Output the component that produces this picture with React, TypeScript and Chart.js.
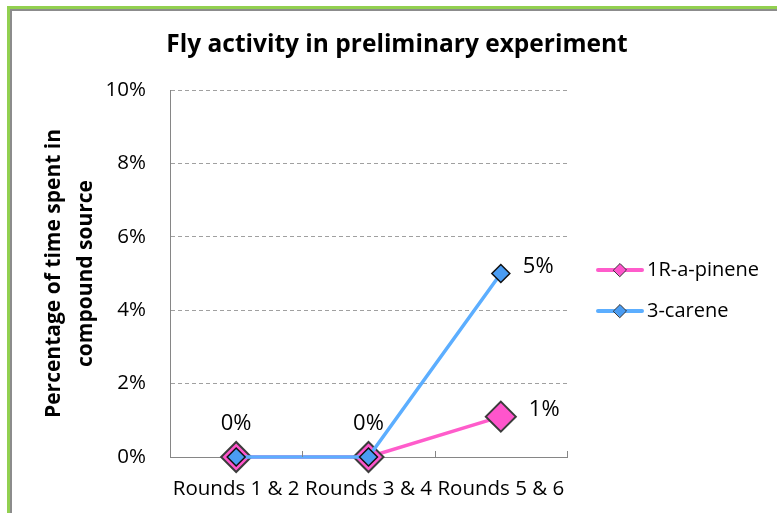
import React, { useEffect, useRef } from 'react';
import { Chart, registerables } from 'chart.js';

Chart.register(...registerables);

const titleText = 'Fly activity in preliminary experiment';
const yTitleLines = ['Percentage of time spent in', 'compound source'];
const categories = ['Rounds 1 & 2', 'Rounds 3 & 4', 'Rounds 5 & 6'];
const seriesNames = ['1R-a-pinene', '3-carene'];
const pineneValues = [0, 0, 1.1];
const careneValues = [0, 0, 5];
const pineneLabels = ['0%', '0%', '1%'];
const careneLabels = ['', '', '5%'];
const yTickValues = [0, 2, 4, 6, 8, 10];

const FONT = '"Open Sans", sans-serif';
const PINK_LINE = '#FF5CCB';
const PINK_FILL = '#FF55CC';
const BLUE_LINE = '#5CAEFF';
const BLUE_FILL = '#4A9CF2';

const labelPlacements = [
  ['above', 'above', 'right'],
  ['none', 'none', 'right'],
];
const labelTexts = [pineneLabels, careneLabels];

const yTitlePlugin = {
  id: 'yTitleCustom',
  afterDraw(chart: any) {
    const { ctx, chartArea } = chart;
    const cy = (chartArea.top + chartArea.bottom) / 2;
    ctx.save();
    ctx.font = `bold 21px ${FONT}`;
    ctx.fillStyle = '#000';
    ctx.textAlign = 'center';
    ctx.textBaseline = 'middle';
    ctx.translate(54, cy);
    ctx.rotate(-Math.PI / 2);
    ctx.fillText(yTitleLines[0], 0, 0);
    ctx.fillText(yTitleLines[1], 0, 32);
    ctx.restore();
  },
};

const xTickPlugin = {
  id: 'xInsideTicks',
  afterDraw(chart: any) {
    const { ctx, chartArea } = chart;
    const xs = chart.scales.x;
    const half = (xs.getPixelForValue(1) - xs.getPixelForValue(0)) / 2;
    ctx.save();
    ctx.strokeStyle = '#868686';
    ctx.lineWidth = 1;
    for (let i = 0; i <= categories.length; i++) {
      const px = Math.round(xs.getPixelForValue(0) - half + i * 2 * half) + 0.5;
      ctx.beginPath();
      ctx.moveTo(px, chartArea.bottom);
      ctx.lineTo(px, chartArea.bottom - 6);
      ctx.stroke();
    }
    ctx.restore();
  },
};

const dataLabelPlugin = {
  id: 'dataLabels',
  afterDatasetsDraw(chart: any) {
    const { ctx } = chart;
    ctx.save();
    ctx.font = `22px ${FONT}`;
    ctx.fillStyle = '#000';
    chart.data.datasets.forEach((ds: any, di: number) => {
      const meta = chart.getDatasetMeta(di);
      const r = ds.pointRadius;
      meta.data.forEach((pt: any, i: number) => {
        const place = labelPlacements[di][i];
        const txt = labelTexts[di][i];
        if (place === 'none' || !txt) return;
        if (place === 'above') {
          ctx.textAlign = 'center';
          ctx.textBaseline = 'middle';
          ctx.fillText(txt, pt.x, pt.y - r - 18);
        } else {
          ctx.textAlign = 'left';
          ctx.textBaseline = 'middle';
          ctx.fillText(txt, pt.x + r + 13, pt.y - 7);
        }
      });
    });
    ctx.restore();
  },
};

const legendPlugin = {
  id: 'legendCustom',
  afterDraw(chart: any) {
    const { ctx, chartArea } = chart;
    const x0 = chartArea.right + 31;
    const ys = [chartArea.top + 180, chartArea.top + 221];
    ctx.save();
    chart.data.datasets.forEach((ds: any, i: number) => {
      const y = ys[i];
      ctx.strokeStyle = ds.borderColor;
      ctx.lineWidth = 4;
      ctx.lineCap = 'round';
      ctx.beginPath();
      ctx.moveTo(x0, y);
      ctx.lineTo(x0 + 44, y);
      ctx.stroke();
      const cx = x0 + 22;
      const rr = 6.5;
      ctx.beginPath();
      ctx.moveTo(cx - rr, y);
      ctx.lineTo(cx, y - rr);
      ctx.lineTo(cx + rr, y);
      ctx.lineTo(cx, y + rr);
      ctx.closePath();
      ctx.fillStyle = ds.pointBackgroundColor;
      ctx.fill();
      ctx.lineWidth = 1;
      ctx.strokeStyle = '#333';
      ctx.stroke();
      ctx.font = `20px ${FONT}`;
      ctx.fillStyle = '#000';
      ctx.textAlign = 'left';
      ctx.textBaseline = 'middle';
      ctx.fillText(ds.label, x0 + 49, y);
    });
    ctx.restore();
  },
};

export default function App() {
  const canvasRef = useRef<HTMLCanvasElement | null>(null);

  useEffect(() => {
    if (!canvasRef.current) return;
    const chart = new Chart(canvasRef.current, {
      type: 'line',
      data: {
        labels: categories,
        datasets: [
          {
            label: seriesNames[0],
            data: pineneValues,
            borderColor: PINK_LINE,
            backgroundColor: PINK_FILL,
            borderWidth: 3.5,
            pointStyle: 'rectRot',
            pointRadius: 15,
            pointBackgroundColor: PINK_FILL,
            pointBorderColor: '#3C3C3C',
            pointBorderWidth: 2,
            tension: 0,
            clip: false,
            order: 1,
          } as any,
          {
            label: seriesNames[1],
            data: careneValues,
            borderColor: BLUE_LINE,
            backgroundColor: BLUE_FILL,
            borderWidth: 3.5,
            pointStyle: 'rectRot',
            pointRadius: 9,
            pointBackgroundColor: BLUE_FILL,
            pointBorderColor: '#111',
            pointBorderWidth: 1.5,
            tension: 0,
            clip: false,
            order: 0,
          } as any,
        ],
      },
      options: {
        responsive: false,
        animation: false,
        events: [],
        layout: { padding: { left: 17, right: 0, top: 0, bottom: 0 } },
        plugins: {
          legend: { display: false },
          tooltip: { enabled: false },
          title: {
            display: true,
            text: titleText,
            color: '#000',
            font: { family: FONT, size: 24.5, weight: 'bold', lineHeight: 1.2 },
            padding: { top: 30, bottom: 30.6 },
          },
        },
        scales: {
          x: {
            type: 'category',
            offset: true,
            grid: { display: false, drawTicks: false },
            border: { display: true, color: '#868686', width: 1 },
            ticks: {
              color: '#000',
              font: { family: FONT, size: 20.5 },
              padding: 20,
              maxRotation: 0,
              autoSkip: false,
            },
            afterFit: (s: any) => {
              s.height = 56;
            },
          },
          y: {
            type: 'linear',
            min: 0,
            max: 10,
            afterBuildTicks: (s: any) => {
              s.ticks = yTickValues.map((v) => ({ value: v }));
            },
            grid: {
              display: true,
              drawTicks: false,
              color: (c: any) => (c.tick && c.tick.value === 0 ? 'rgba(0,0,0,0)' : '#A0A0A0'),
              lineWidth: 1,
            },
            border: { display: true, color: '#868686', width: 1, dash: [4, 3] },
            ticks: {
              color: '#000',
              font: { family: FONT, size: 20.5 },
              padding: 24,
              callback: (v: any) => `${v}%`,
            },
            afterFit: (s: any) => {
              s.width = 153;
            },
          },
          yR: {
            type: 'linear',
            position: 'right',
            display: true,
            grid: { display: false },
            border: { display: false },
            ticks: { display: false },
            afterFit: (s: any) => {
              s.width = 210;
            },
          },
        },
      } as any,
      plugins: [yTitlePlugin, xTickPlugin, dataLabelPlugin, legendPlugin],
    });
    return () => chart.destroy();
  }, []);

  return (
    <div
      style={{
        position: 'fixed',
        left: 0,
        top: 0,
        width: 777,
        height: 513,
        background: '#fff',
        overflow: 'hidden',
      }}
    >
      <div
        style={{
          position: 'absolute',
          left: 7,
          top: 6,
          width: 900,
          height: 700,
          borderTop: '3px solid #92D050',
          borderLeft: '3px solid #92D050',
          boxShadow: 'inset 2px 2px 0 #8C8C8C',
        }}
      />
      <canvas
        ref={canvasRef}
        width={777}
        height={513}
        style={{ position: 'absolute', left: 0, top: 0, width: 777, height: 513 }}
      />
    </div>
  );
}
